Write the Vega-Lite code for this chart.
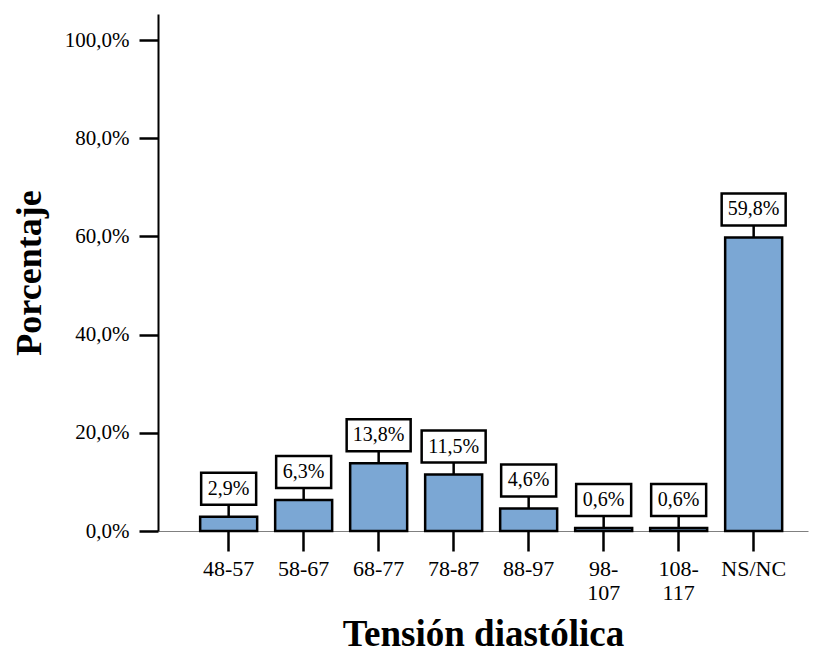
{
  "$schema": "https://vega.github.io/schema/vega-lite/v6.json",
  "width": 650,
  "height": 517,
  "autosize": "none",
  "padding": {"left": 158, "top": 14, "right": 5, "bottom": 126},
  "background": "white",
  "config": {
    "font": "Liberation Serif, Times New Roman, serif",
    "axis": {"labelFont": "Liberation Serif, Times New Roman, serif", "titleFont": "Liberation Serif, Times New Roman, serif"},
    "text": {"font": "Liberation Serif, Times New Roman, serif"},
    "locale": {"number": {"decimal": ",", "thousands": ".", "grouping": [3], "currency": ["", " €"]}},
    "view": {"stroke": null}
  },
  "data": {
    "values": [
      {"cat": "48-57", "pct": 0.029},
      {"cat": "58-67", "pct": 0.063},
      {"cat": "68-77", "pct": 0.138},
      {"cat": "78-87", "pct": 0.115},
      {"cat": "88-97", "pct": 0.046},
      {"cat": "98-107", "pct": 0.006},
      {"cat": "108-117", "pct": 0.006},
      {"cat": "NS/NC", "pct": 0.598}
    ]
  },
  "encoding": {
    "x": {
      "field": "cat",
      "type": "nominal",
      "sort": null,
      "scale": {"paddingInner": 0.24, "paddingOuter": 0.4533, "align": 0.62},
      "axis": {
        "title": "Tensión diastólica",
        "domainColor": "#808080",
        "domainWidth": 1,
        "tickSize": 20,
        "tickWidth": 2.5,
        "tickColor": "black",
        "labelAngle": 0,
        "labelFontSize": 22,
        "labelPadding": 7,
        "labelColor": "black",
        "labelLineHeight": 24,
        "labelExpr": "length(datum.label) > 5 && indexof(datum.label, '-') > 0 ? [slice(datum.label, 0, indexof(datum.label, '-') + 1), slice(datum.label, indexof(datum.label, '-') + 1)] : datum.label",
        "titleFontSize": 37,
        "titleFontWeight": "bold",
        "titleColor": "black",
        "titlePadding": 13
      }
    }
  },
  "layer": [
    {
      "mark": {"type": "bar", "fill": "#7BA7D4", "stroke": "black", "strokeWidth": 2.5},
      "encoding": {
        "y": {
          "field": "pct",
          "type": "quantitative",
          "scale": {"domain": [0, 1.053], "nice": false},
          "axis": {
            "title": "Porcentaje",
            "format": ".1%",
            "values": [0, 0.2, 0.4, 0.6, 0.8, 1.0],
            "grid": false,
            "domainColor": "black",
            "domainWidth": 2,
            "tickSize": 19,
            "tickWidth": 2.5,
            "tickColor": "black",
            "labelFontSize": 21,
            "labelPadding": 10,
            "labelColor": "black",
            "titleFontSize": 36,
            "titleFontWeight": "bold",
            "titleColor": "black",
            "titlePadding": 16
          }
        }
      }
    },
    {
      "mark": {"type": "rule", "color": "black", "strokeWidth": 2.5, "y2Offset": -12},
      "encoding": {
        "y": {"field": "pct", "type": "quantitative"},
        "y2": {"field": "pct"}
      }
    },
    {
      "mark": {"type": "bar", "fill": "white", "stroke": "black", "strokeWidth": 2.5, "yOffset": -12, "y2Offset": -44},
      "encoding": {
        "y": {"field": "pct", "type": "quantitative"},
        "y2": {"field": "pct"},
        "size": {"condition": {"test": "datum.pct >= 0.1", "value": 64}, "value": 55}
      }
    },
    {
      "mark": {"type": "text", "fontSize": 20, "dy": -28, "baseline": "middle", "color": "black"},
      "encoding": {
        "y": {"field": "pct", "type": "quantitative"},
        "text": {"field": "pct", "type": "quantitative", "format": ".1%"}
      }
    }
  ]
}
